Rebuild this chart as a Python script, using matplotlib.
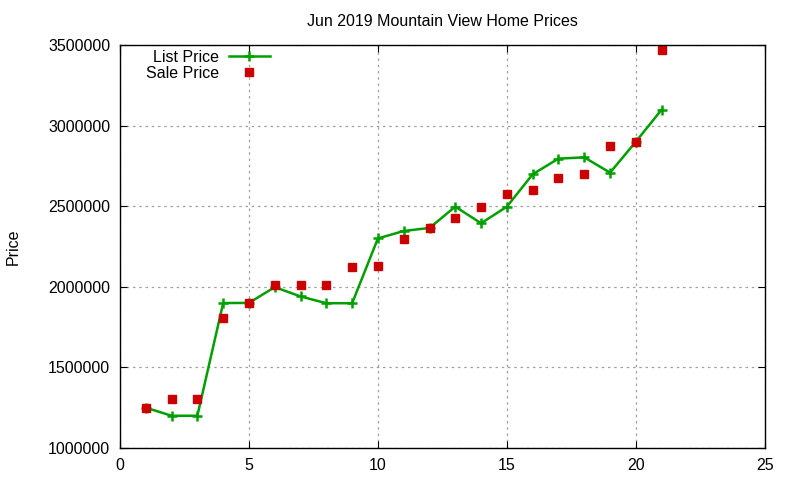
''' Jun 2019 Mountain View home prices, gnuplot-style chart '''
import matplotlib
matplotlib.use('Agg')
import matplotlib.pyplot as plt

plt.rcParams['font.family'] = ['Liberation Sans', 'DejaVu Sans']

# data
day = [1, 2, 3, 4, 5, 6, 7, 8, 9, 10, 11, 12, 13, 14, 15, 16, 17, 18, 19, 20, 21]
list_price = [1250000, 1200000, 1200000, 1899000, 1900000, 1998000, 1940000, 1898000,
              1898000, 2300000, 2346000, 2365000, 2497000, 2394000, 2497000, 2698000,
              2795000, 2803000, 2708000, 2900000, 3099000]
sale_price = [1245000, 1306000, 1306000, 1808000, 1898000, 2008000, 2010000, 2011000,
              2125000, 2130000, 2298000, 2365000, 2429000, 2497000, 2578000, 2603000,
              2677000, 2702000, 2875000, 2900000, 3471000]

fig = plt.figure(figsize=(8, 4.8), dpi=100)
ax = fig.add_axes([0.15, 0.0667, 0.806, 0.8396])

ax.plot(day, list_price, color='#00a000', linewidth=1.8, marker='+',
        markersize=6.5, markeredgewidth=1.8, label='List Price')
ax.plot(day, sale_price, linestyle='none', color='#cc0000', marker='s',
        markersize=6, label='Sale Price')

ax.set_xlim(0, 25)
ax.set_ylim(1000000, 3500000)
ax.set_xticks([0, 5, 10, 15, 20, 25])
ax.set_yticks([1000000, 1500000, 2000000, 2500000, 3000000, 3500000])
ax.ticklabel_format(style='plain', axis='y', useOffset=False)
ax.tick_params(direction='in', top=True, right=True, labelsize=11.5, length=5)
ax.tick_params(axis='x', pad=7)
ax.tick_params(axis='y', pad=7)

ax.grid(True, color='#a0a0a0', linestyle=(0, (2, 3)), linewidth=0.9)
for s in ax.spines.values():
    s.set_linewidth(1)

ax.set_title('Jun 2019 Mountain View Home Prices', fontsize=11.5, pad=14)
ax.set_ylabel('Price', fontsize=11.5, labelpad=20)

ax.legend(loc='upper left', bbox_to_anchor=(0.04, 0.988), frameon=False,
          markerfirst=False, fontsize=11.5, handlelength=2.6,
          labelspacing=0.05, borderaxespad=0, borderpad=0, handletextpad=0.6)

plt.savefig('out.png', dpi=100)
